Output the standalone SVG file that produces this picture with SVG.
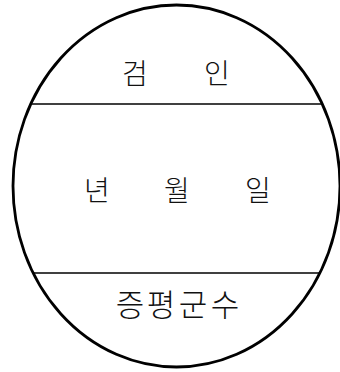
<svg xmlns="http://www.w3.org/2000/svg" width="340" height="372" viewBox="0 0 340 372">
<style>
.t{font-family:"Noto Sans CJK KR","Noto Sans CJK SC",sans-serif;font-size:28px;fill:#111;text-anchor:middle;font-weight:300}
.b{font-size:31px}
.ln{stroke:#000;stroke-width:1.4;fill:none}
</style>
<rect width="340" height="372" fill="#fff"/>
<g id="seal">
<ellipse cx="176.5" cy="186" rx="163.5" ry="181" fill="none" stroke="#000" stroke-width="2.8"/>
</g>
<g id="dividers">
<line class="ln" x1="31" y1="104" x2="323" y2="104"/>
<line class="ln" x1="33" y1="273" x2="321" y2="273"/>
</g>
<g id="top">
<text class="t" x="135" y="84">검</text>
<text class="t" x="217" y="84">인</text>
</g>
<g id="middle">
<text class="t" x="97" y="201">년</text>
<text class="t" x="177" y="201">월</text>
<text class="t" x="258" y="201">일</text>
</g>
<g id="bottom">
<text class="t b" x="130" y="316">증</text>
<text class="t b" x="161" y="316">평</text>
<text class="t b" x="193" y="316">군</text>
<text class="t b" x="225" y="316">수</text>
</g>
</svg>
